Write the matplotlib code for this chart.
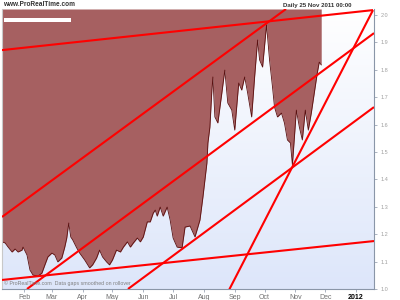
import numpy as np
import matplotlib
matplotlib.use("Agg")
import matplotlib.pyplot as plt
from matplotlib.colors import LinearSegmentedColormap
from matplotlib.patches import Rectangle

plt.rcParams['font.family'] = ['Liberation Sans', 'DejaVu Sans']

# ---- data (x = day of year 2011, y = price) ----
days = [9, 12, 15, 19, 22, 25, 29, 30, 34, 37, 40, 45, 49, 52, 55, 59, 62, 65, 69, 72,
        74, 76, 78, 80, 84, 87, 92, 97, 100, 104, 107, 110, 114, 117, 120, 124, 128, 131,
        135, 138, 141, 145, 148, 151, 155, 158, 161, 163, 165, 168, 171, 175, 178, 181,
        185, 190, 193, 198, 203, 208, 211, 215, 216, 218, 220, 221, 223, 226, 230, 233,
        236, 240, 243, 247, 250, 253, 256, 260, 263, 266, 268, 271, 275, 278, 281, 283,
        286, 290, 293, 296, 299, 301, 305, 308, 311, 314, 317, 320, 323, 326, 328, 330]
prices = [1.172, 1.168, 1.153, 1.135, 1.146, 1.135, 1.142, 1.153, 1.124, 1.069, 1.051,
          1.047, 1.058, 1.088, 1.117, 1.131, 1.124, 1.099, 1.113, 1.153, 1.186, 1.241,
          1.190, 1.179, 1.150, 1.131, 1.106, 1.077, 1.088, 1.113, 1.142, 1.117, 1.099,
          1.088, 1.106, 1.142, 1.135, 1.153, 1.172, 1.153, 1.168, 1.186, 1.172, 1.190,
          1.245, 1.245, 1.277, 1.288, 1.266, 1.299, 1.266, 1.299, 1.252, 1.186, 1.153,
          1.150, 1.226, 1.230, 1.190, 1.252, 1.336, 1.460, 1.533, 1.591, 1.726, 1.774,
          1.628, 1.606, 1.715, 1.799, 1.679, 1.653, 1.580, 1.752, 1.726, 1.774, 1.715,
          1.628, 1.774, 1.909, 1.836, 1.810, 1.964, 1.836, 1.737, 1.664, 1.628, 1.642,
          1.606, 1.544, 1.533, 1.453, 1.653, 1.591, 1.544, 1.653, 1.580, 1.642, 1.715,
          1.788, 1.828, 1.818]

# trend lines: (day0, price0, day1, price1)
trend_lines = [
    (8.85, 1.872, 382.1, 2.018),
    (8.85, 1.263, 294.6, 2.022),
    (34.0, 1.000, 383.1, 1.934),
    (135.6, 1.000, 383.1, 1.664),
    (8.85, 1.033, 383.1, 1.175),
    (237.2, 0.996, 382.1, 2.018),
]

month_ticks = [31, 59, 90, 120, 151, 181, 212, 243, 273, 304, 334, 365]
month_labels = ['Feb', 'Mar', 'Apr', 'May', 'Jun', 'Jul', 'Aug', 'Sep', 'Oct', 'Nov', 'Dec', '2012']

price_ticks = [1.0, 1.1, 1.2, 1.3, 1.4, 1.5, 1.6, 1.7, 1.8, 1.9, 2.0]
price_labels = ['1.0', '1.1', '1.2', '1.3', '1.4', '1.5', '1.6', '1.7', '1.8', '1.9', '2.0']

XMIN, XMAX = 8.85, 383.1
YMIN, YMAX = 1.0, 2.022

fig = plt.figure(figsize=(4, 3), dpi=100)
fig.patch.set_facecolor('white')
ax = fig.add_axes([2/400, 11/300, 372/400, 280/300])

# background gradient
cmap = LinearSegmentedColormap.from_list('bg', ['#dde6fa', '#ffffff'])
grad = np.linspace(0, 1, 256).reshape(-1, 1)
ax.imshow(grad, extent=[XMIN, XMAX, YMIN, YMAX], origin='lower', aspect='auto',
          cmap=cmap, zorder=0)

ax.fill_between(days, prices, YMAX, color='#a66061', lw=0, zorder=1)
ax.plot(days, prices, color='#5a1010', lw=0.6, zorder=2)

for d0, p0, d1, p1 in trend_lines:
    ax.plot([d0, d1], [p0, p1], color='#ff0000', lw=1.5, zorder=3,
            solid_capstyle='butt')

# white label bar top-left
ax.add_patch(Rectangle((0.005, 0.953), 0.18, 0.016, transform=ax.transAxes,
                       color='white', zorder=4, lw=0))

ax.set_xlim(XMIN, XMAX)
ax.set_ylim(YMIN, YMAX)

ax.set_xticks(month_ticks)
ax.set_xticklabels(month_labels, fontsize=5, color='#707070')
ax.get_xticklabels()[-1].set_color('black')
ax.get_xticklabels()[-1].set_fontweight('bold')
ax.tick_params(axis='x', length=2, width=0.5, color='#8a96a8', pad=1.5)

ax.yaxis.tick_right()
ax.set_yticks(price_ticks)
ax.set_yticklabels(price_labels, fontsize=4, color='#a0a0a0')
ax.tick_params(axis='y', length=2.5, width=0.5, color='#8a96a8', pad=2)

ax.spines['top'].set_visible(False)
ax.spines['left'].set_color('#c8c8c8')
ax.spines['left'].set_linewidth(0.8)
ax.spines['bottom'].set_color('#8a96a8')
ax.spines['bottom'].set_linewidth(0.8)
ax.spines['right'].set_color('#8a96a8')
ax.spines['right'].set_linewidth(0.8)

fig.text(3/400, 1 - 5/300, 'www.ProRealTime.com', fontsize=4.7, fontweight='bold',
         color='#333333', va='center', ha='left')
fig.text(283/400, 1 - 5/300, 'Daily 25 Nov 2011 00:00', fontsize=4.4, fontweight='bold',
         color='#333333', va='center', ha='left')
ax.text(0.005, 0.012, '\u00a9 ProRealTime.com  Data gaps smoothed on rollover',
        transform=ax.transAxes, fontsize=3.8, color='#808080', va='bottom', ha='left',
        zorder=5)

fig.savefig('out.png', dpi=100)
